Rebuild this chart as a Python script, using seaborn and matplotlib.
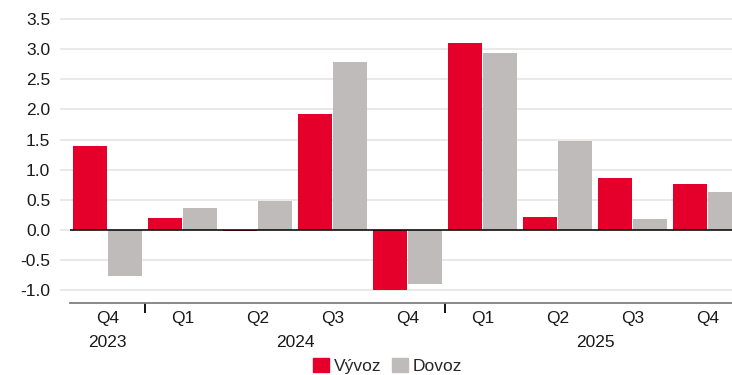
import numpy as np
import pandas as pd
import matplotlib
matplotlib.use("Agg")
import matplotlib.pyplot as plt
import seaborn as sns

# data
quarters = ["Q4", "Q1", "Q2", "Q3", "Q4", "Q1", "Q2", "Q3", "Q4"]
years = [2023, 2024, 2024, 2024, 2024, 2025, 2025, 2025, 2025]
vyvoz = [1.39, 0.20, -0.02, 1.92, -1.00, 3.11, 0.22, 0.86, 0.76]
dovoz = [-0.77, 0.36, 0.48, 2.79, -0.90, 2.94, 1.48, 0.18, 0.63]
series_names = ["Vývoz", "Dovoz"]
colors = ["#E4002B", "#BFBBBA"]

categories = [f"{q} {y}" for q, y in zip(quarters, years)]
df = pd.DataFrame({
    "kategorie": categories * 2,
    "serie": [series_names[0]] * len(categories) + [series_names[1]] * len(categories),
    "hodnota": vyvoz + dovoz,
})

FS = 12.5

sns.set_style("white")
plt.rcParams["font.family"] = ["Liberation Sans", "DejaVu Sans"]
plt.rcParams["font.size"] = FS

fig = plt.figure(figsize=(7.32, 3.75), dpi=100)
ax = fig.add_axes([60 / 732, (375 - 302.7) / 375, 1 - 60 / 732, 302.7 / 375])

sns.barplot(
    data=df, x="kategorie", y="hodnota", hue="serie",
    order=categories, hue_order=series_names,
    palette=colors, width=0.95, gap=0.05,
    saturation=1, linewidth=0, ax=ax,
)

n = len(categories)
ax.set_xticks(range(n))
ax.set_xticklabels(quarters)
ax.set_xticks(np.arange(-0.5, n, 1.0), minor=True)

# limits after the ticks, so set_xticks cannot widen them
ax.set_xlim(-0.5 - 10 / 75, -0.5 + (732 - 70) / 75)
ax.set_ylim(-1.205, 3.815)
ax.set_yticks(np.arange(-1.0, 3.51, 0.5))
ax.set_yticklabels([f"{v:.1f}" for v in np.arange(-1.0, 3.51, 0.5)])
ax.yaxis.grid(True, color="#e3e3e3", linewidth=1.1)
ax.set_axisbelow(True)
ax.tick_params(axis="y", length=0, pad=7, labelsize=FS, colors="#1a1a1a")

# zero line
ax.hlines(0, -0.5, n - 0.5, color="black", linewidth=1.1, zorder=3)

for side in ["top", "right", "left"]:
    ax.spines[side].set_visible(False)
ax.spines["bottom"].set_color("#7f7f7f")
ax.spines["bottom"].set_linewidth(1.3)
ax.spines["bottom"].set_bounds(-0.5, n - 0.5)

ax.tick_params(axis="x", which="major", length=0, pad=6.2, labelsize=FS, colors="#1a1a1a")
ax.tick_params(axis="x", which="minor", length=3, width=1.3, color="#333333")

# longer black ticks where the year changes
year_breaks = [i - 0.5 for i in range(1, n) if years[i] != years[i - 1]]
sec = ax.secondary_xaxis("bottom")
sec.set_xticks(year_breaks)
sec.set_xticklabels([])
sec.tick_params(axis="x", length=7.5, width=1.3, color="black")
sec.tick_params(axis="x", which="minor", length=0)
sec.spines["bottom"].set_visible(False)

# year labels under the quarters
year_groups = {}
for i, y in enumerate(years):
    year_groups.setdefault(y, []).append(i)
for y, idx in year_groups.items():
    ax.annotate(str(y), xy=(np.mean(idx), 0), xycoords=("data", "axes fraction"),
                xytext=(0, -28.3), textcoords="offset points",
                ha="center", va="center", fontsize=FS, color="#1a1a1a")

ax.set_xlabel("")
ax.set_ylabel("")
ax.get_legend().remove()
handles = [plt.Rectangle((0, 0), 1, 1, color=c) for c in colors]
fig.legend(handles, series_names, loc="center", bbox_to_anchor=(387.5 / 732, 1 - 366 / 375),
           ncol=2, frameon=False, fontsize=FS, handlelength=0.92, handleheight=0.92,
           handletextpad=0.3, columnspacing=0.6, borderpad=0)

fig.savefig("out.png", dpi=100)
plt.close(fig)
